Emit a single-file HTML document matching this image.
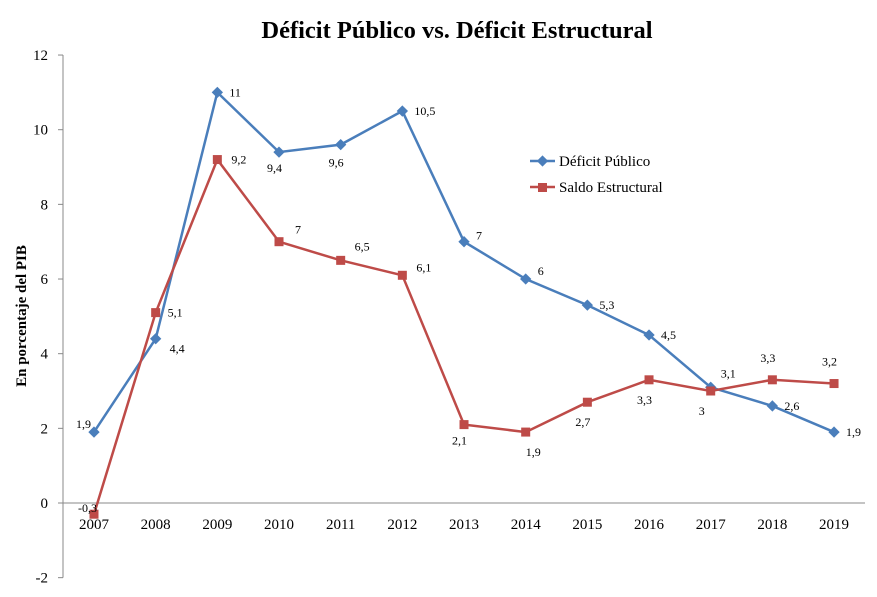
<!DOCTYPE html>
<html><head><meta charset="utf-8"><style>
body{margin:0;background:#fff;}
svg text{font-family:"Liberation Serif",serif;}
</style></head><body>
<svg id="chart" width="877" height="592" viewBox="0 0 877 592" xmlns="http://www.w3.org/2000/svg">
<text x="457" y="38" text-anchor="middle" font-size="24.5" font-weight="bold">Déficit Público vs. Déficit Estructural</text>
<text transform="translate(26,316) rotate(-90)" text-anchor="middle" font-size="15" font-weight="bold">En porcentaje del PIB</text>
<g id="axes"></g><g id="series"></g>
<g>
<g>
<line x1="530" y1="161" x2="555" y2="161" stroke="#4a7ebb" stroke-width="2.5"/>
<rect x="538.5" y="157" width="8" height="8" fill="#4a7ebb" transform="rotate(45 542.5 161)"/>
<text x="559" y="166" font-size="15">Déficit Público</text></g>
<g>
<line x1="530" y1="187" x2="555" y2="187" stroke="#be4b48" stroke-width="2.5"/>
<rect x="538" y="183" width="9" height="9" fill="#be4b48"/>
<text x="559" y="192" font-size="15">Saldo Estructural</text></g>
</g>
</svg>
<script>
const years=["2007","2008","2009","2010","2011","2012","2013","2014","2015","2016","2017","2018","2019"];
const deficit=[1.9,4.4,11,9.4,9.6,10.5,7,6,5.3,4.5,3.1,2.6,1.9];
const saldo=[-0.3,5.1,9.2,7,6.5,6.1,2.1,1.9,2.7,3.3,3,3.3,3.2];
const yTicks=[-2,0,2,4,6,8,10,12];
const defOff=[[-18,-8],[14,10],[12,0],[-12,16],[-12,18],[12,0],[12,-6],[12,-8],[12,0],[12,0],[10,-14],[12,0],[12,0]];
const salOff=[[-16,-6],[12,0],[14,0],[16,-12],[14,-14],[14,-8],[-12,16],[0,20],[-12,20],[-12,20],[-12,20],[-12,-22],[-12,-22]];
const NS="http://www.w3.org/2000/svg";
const X=i=>94+i*61.67, Y=v=>503-(v)*37.33;
function mk(t,a,p){const e=document.createElementNS(NS,t);for(const k in a)e.setAttribute(k,a[k]);p.appendChild(e);return e;}
const ax=document.getElementById('axes'), se=document.getElementById('series');
let l=mk('line',{x1:63,y1:Y(12),x2:63,y2:Y(-2),stroke:'#888'},ax);


l=mk('line',{x1:63,y1:Y(0),x2:865,y2:Y(0),stroke:'#888'},ax);


yTicks.forEach(v=>{mk('line',{x1:58,y1:Y(v),x2:63,y2:Y(v),stroke:'#888'},ax);
const t=mk('text',{x:48,y:Y(v)+5,'text-anchor':'end','font-size':15},ax);t.textContent=v;

});
years.forEach((y,i)=>{const t=mk('text',{x:X(i),y:529,'text-anchor':'middle','font-size':15},ax);t.textContent=y;

});
function draw(vals,col,name,off,sq){
const p=mk('polyline',{points:vals.map((v,i)=>X(i)+','+Y(v)).join(' '),fill:'none',stroke:col,'stroke-width':2.5},se);


vals.forEach((v,i)=>{let m;
if(sq)m=mk('rect',{x:X(i)-4.5,y:Y(v)-4.5,width:9,height:9,fill:col},se);
else m=mk('rect',{x:X(i)-4,y:Y(v)-4,width:8,height:8,fill:col,transform:`rotate(45 ${X(i)} ${Y(v)})`},se);


const t=mk('text',{x:X(i)+off[i][0],y:Y(v)+off[i][1]+4,'font-size':12},se);
t.textContent=String(v).replace('.',',');

});}
draw(deficit,'#4a7ebb','deficit',defOff,false);
draw(saldo,'#be4b48','saldo',salOff,true);
</script>
</body></html>
